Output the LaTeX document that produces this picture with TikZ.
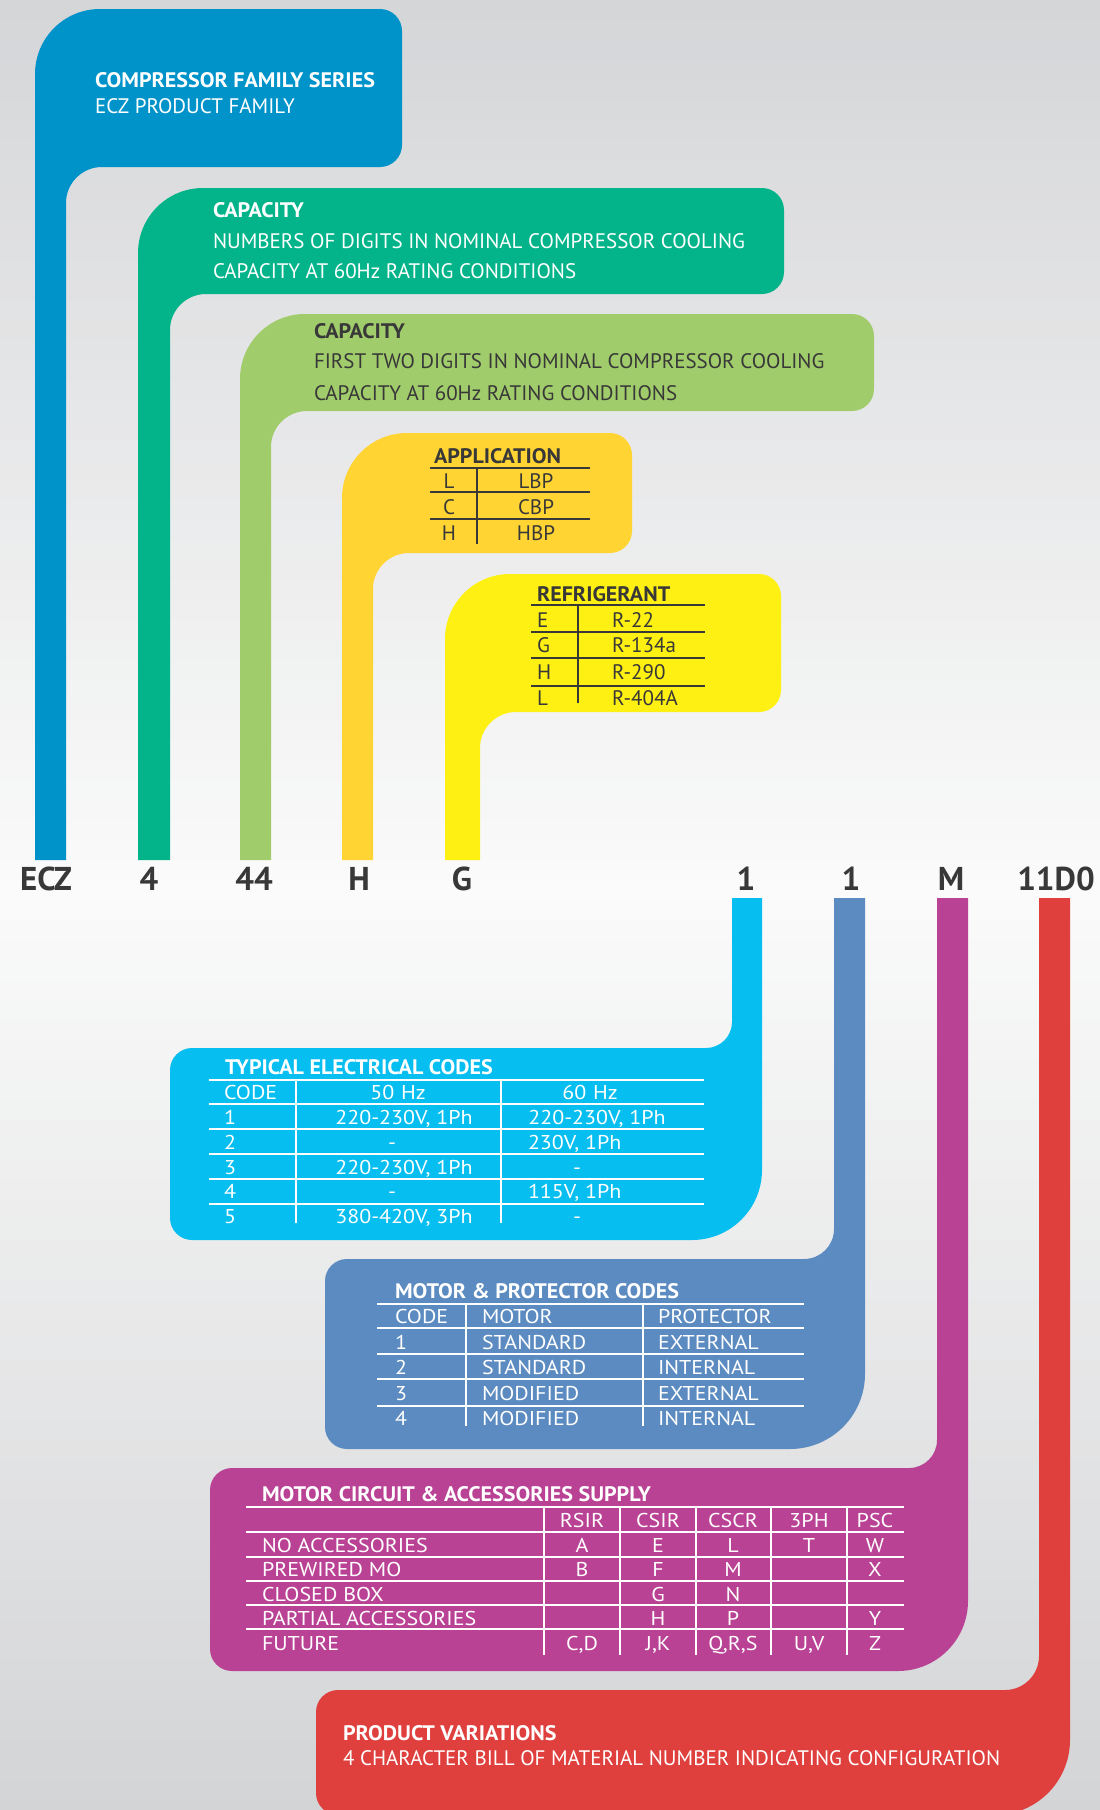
\documentclass[tikz,border=0pt]{standalone}
\usepackage{fontspec}
\setmainfont{PT Sans}
\newfontfamily\cf{PT Sans}
\newfontfamily\cfb[FakeStretch=1.05]{PT Sans}
\newfontfamily\cft[FakeStretch=1.1]{PT Sans}
\definecolor{cBlue}{HTML}{0093C9}
\definecolor{cGreen}{HTML}{03B48A}
\definecolor{cLGreen}{HTML}{A1CC6B}
\definecolor{cOrange}{HTML}{FFD433}
\definecolor{cYellow}{HTML}{FEF012}
\definecolor{cCyan}{HTML}{06BEEF}
\definecolor{cSteel}{HTML}{5B8BC0}
\definecolor{cMag}{HTML}{B94295}
\definecolor{cRed}{HTML}{DF403D}
\definecolor{cDark}{HTML}{383838}
\definecolor{bgTop}{HTML}{D5D6D8}
\definecolor{bgMid}{HTML}{FBFBFB}
\definecolor{bgBot}{HTML}{D3D4D6}
\newcommand\UpFlag[6]{%
 \fill[#6] (#1,860) -- (#1,#3+65) arc[start angle=180,end angle=90,radius=65pt]
 -- (#4-22,#3) arc[start angle=90,end angle=0,radius=22pt]
 -- (#4,#5-22) arc[start angle=0,end angle=-90,radius=22pt]
 -- (#2+36,#5) arc[start angle=90,end angle=180,radius=36pt]
 -- (#2,860) -- cycle;}
\newcommand\DownFlag[8]{%
 \fill[#8] (#1,898) -- (#2,898) -- (#2,#5-#6) arc[start angle=0,end angle=-90,radius=#6pt]
 -- (#3+22,#5) arc[start angle=-90,end angle=-180,radius=22pt]
 -- (#3,#4+22) arc[start angle=180,end angle=90,radius=22pt]
 -- (#1-#7,#4) arc[start angle=-90,end angle=0,radius=#7pt] -- cycle;}
\newcommand\fA{\fontsize{21}{25}\selectfont}
\newcommand\fT{\fontsize{20}{24}\selectfont}
\newcommand\fL{\fontsize{33}{38}\selectfont}
\begin{document}
\begin{tikzpicture}[x=1pt,y=-1pt,
  every node/.style={inner sep=0pt,outer sep=0pt},
  tx/.style={anchor=base west,font=\cf\fA},
  tb/.style={anchor=base west,font=\cfb\fA\bfseries},
  tt/.style={anchor=base west,font=\cft\fT},
  tc/.style={anchor=base,font=\cft\fT},
  lab/.style={anchor=base,font=\cf\fL\bfseries,text=cDark},
  rule/.style={line width=1.4pt}]
\useasboundingbox (0,0) rectangle (1100,1810);
\clip (0,0) rectangle (1100,1810);
% background gradient
\foreach \k in {0,...,44}{%
  \pgfmathtruncatemacro\pp{100*\k/44}%
  \fill[bgMid!\pp!bgTop] (0,20*\k) rectangle (1100,20*\k+21);}
\foreach \k in {0,...,47}{%
  \pgfmathtruncatemacro\pp{100-100*\k/46}%
  \fill[bgMid!\pp!bgBot] (0,880+20*\k) rectangle (1100,880+20*\k+21);}

% upper flags
\UpFlag{35}{66}{9}{402}{167}{cBlue}
\UpFlag{138}{170}{188}{784}{294}{cGreen}
\UpFlag{240}{271}{314}{874}{411}{cLGreen}
\UpFlag{342}{373}{433}{632}{553}{cOrange}
\UpFlag{445}{480}{574}{781}{712}{cYellow}

% lower flags
\DownFlag{732}{762}{170}{1048}{1240}{70}{26}{cCyan}
\DownFlag{834}{865}{325}{1259}{1449}{75}{30}{cSteel}
\DownFlag{937}{968}{210}{1468}{1671}{70}{28}{cMag}
\DownFlag{1039}{1070}{316}{1690}{1815}{75}{34}{cRed}

% code labels
\node[lab] (lECZ) at (46,890) {ECZ};
\node[lab] (l4) at (149,890) {4};
\node[lab] (l44) at (254,890) {44};
\node[lab] (lH) at (359,890) {H};
\node[lab] (lG) at (462,890) {G};
\node[lab] (l1a) at (746,890) {1};
\node[lab] (l1b) at (851,890) {1};
\node[lab] (lM) at (951,890) {M};
\node[lab] (l11) at (1056,890) {11D0};

% blue
\begin{scope}[text=white]
\node[tb] (b1) at (95,87) {COMPRESSOR FAMILY SERIES};
\node[tx] (b2) at (95,113) {ECZ PRODUCT FAMILY};
% green
\node[tb] (g1) at (213,217) {CAPACITY};
\node[tx] (g2) at (213,248) {NUMBERS OF DIGITS IN NOMINAL COMPRESSOR COOLING};
\node[tx] (g3) at (213,278) {CAPACITY AT 60Hz RATING CONDITIONS};
\end{scope}
% light green
\begin{scope}[text=cDark]
\node[tb] (lg1) at (314,338) {CAPACITY};
\node[tx] (lg2) at (314,368) {FIRST TWO DIGITS IN NOMINAL COMPRESSOR COOLING};
\node[tx] (lg3) at (314,400) {CAPACITY AT 60Hz RATING CONDITIONS};
% application
\node[tb] (ap) at (434,463) {APPLICATION};
\draw[rule,cDark] (430,468) -- (590,468) (430,492) -- (590,492) (430,519) -- (590,519) (477,468) -- (477,544);
\node[tc,font=\cf\fA] (apL) at (449,488) {L};
\node[tc,font=\cf\fA] (apLv) at (536,488) {LBP};
\node[tc,font=\cf\fA] (apC) at (449,514) {C};
\node[tc,font=\cf\fA] (apCv) at (536,514) {CBP};
\node[tc,font=\cf\fA] (apH) at (449,540) {H};
\node[tc,font=\cf\fA] (apHv) at (536,540) {HBP};
% refrigerant
\node[tb] (rf) at (537,601) {REFRIGERANT};
\draw[rule,cDark] (531,605) -- (705,605) (531,632) -- (705,632) (531,658) -- (705,658) (531,686) -- (705,686) (578,605) -- (578,703);
\node[tx] (rE) at (537,627) {E};
\node[tx] (rEv) at (612,627) {R-22};
\node[tx] (rG) at (537,652) {G};
\node[tx] (rGv) at (612,652) {R-134a};
\node[tx] (rH) at (537,679) {H};
\node[tx] (rHv) at (612,679) {R-290};
\node[tx] (rL) at (537,705) {L};
\node[tx] (rLv) at (612,705) {R-404A};
\end{scope}

\begin{scope}[text=white]
% electrical codes
\node[tb] (ec) at (225,1074) {TYPICAL ELECTRICAL CODES};
\draw[rule,white] (209,1080) -- (704,1080) (209,1104) -- (704,1104) (209,1129) -- (704,1129)
  (209,1154) -- (704,1154) (209,1179) -- (704,1179) (209,1204) -- (704,1204)
  (296,1080) -- (296,1223) (501,1080) -- (501,1223);
\node[tt] (ech) at (224,1099) {CODE};
\node[tc] (ech5) at (398,1099) {50\,\,Hz};
\node[tc] (ech6) at (590,1099) {60\,\,Hz};
\node[tt] (ec1) at (224,1124) {1};
\node[tc] (ec1a) at (404,1124) {220-230V, 1Ph};
\node[tc] (ec1b) at (597,1124) {220-230V, 1Ph};
\node[tt] (ec2) at (224,1149) {2};
\node[tc] (ec2a) at (392,1149) {-};
\node[tt] (ec2b) at (528,1149) {230V, 1Ph};
\node[tt] (ec3) at (224,1174) {3};
\node[tc] (ec3a) at (404,1174) {220-230V, 1Ph};
\node[tc] (ec3b) at (577,1174) {-};
\node[tt] (ec4) at (224,1198) {4};
\node[tc] (ec4a) at (392,1198) {-};
\node[tt] (ec4b) at (528,1198) {115V, 1Ph};
\node[tt] (ec5) at (224,1223) {5};
\node[tc] (ec5a) at (404,1223) {380-420V, 3Ph};
\node[tc] (ec5b) at (577,1223) {-};
% motor & protector
\node[tb] (mp) at (395,1298) {MOTOR \& PROTECTOR CODES};
\draw[rule,white] (377,1304) -- (804,1304) (377,1328) -- (804,1328) (377,1354) -- (804,1354)
  (377,1379) -- (804,1379) (377,1406) -- (804,1406) (466,1304) -- (466,1426) (643,1304) -- (643,1426);
\node[tt] (mph1) at (395,1323) {CODE};
\node[tt] (mph2) at (482,1323) {MOTOR};
\node[tt] (mph3) at (658,1323) {PROTECTOR};
\node[tt] (mp1) at (395,1349) {1};
\node[tt] (mp1a) at (482,1349) {STANDARD};
\node[tt] (mp1b) at (658,1349) {EXTERNAL};
\node[tt] (mp2) at (395,1374) {2};
\node[tt] (mp2a) at (482,1374) {STANDARD};
\node[tt] (mp2b) at (658,1374) {INTERNAL};
\node[tt] (mp3) at (395,1400) {3};
\node[tt] (mp3a) at (482,1400) {MODIFIED};
\node[tt] (mp3b) at (658,1400) {EXTERNAL};
\node[tt] (mp4) at (395,1425) {4};
\node[tt] (mp4a) at (482,1425) {MODIFIED};
\node[tt] (mp4b) at (658,1425) {INTERNAL};
% motor circuit
\node[tb] (mc) at (262,1501) {MOTOR CIRCUIT \& ACCESSORIES SUPPLY};
\draw[rule,white] (246,1507) -- (904,1507) (246,1532) -- (904,1532) (246,1557) -- (904,1557)
  (246,1581) -- (904,1581) (246,1605) -- (904,1605) (246,1629) -- (904,1629)
  (544,1507) -- (544,1655) (620,1507) -- (620,1655) (696,1507) -- (696,1655)
  (771,1507) -- (771,1655) (847,1507) -- (847,1655);
\node[tc] (mch1) at (582,1527) {RSIR};
\node[tc] (mch2) at (658,1527) {CSIR};
\node[tc] (mch3) at (733,1527) {CSCR};
\node[tc] (mch4) at (809,1527) {3PH};
\node[tc] (mch5) at (875,1527) {PSC};
\node[tt] (mr1) at (262,1552) {NO ACCESSORIES};
\node[tc] (mr1a) at (582,1552) {A};
\node[tc] (mr1b) at (658,1552) {E};
\node[tc] (mr1c) at (733,1552) {L};
\node[tc] (mr1d) at (809,1552) {T};
\node[tc] (mr1e) at (875,1552) {W};
\node[tt] (mr2) at (262,1576) {PREWIRED MO};
\node[tc] (mr2a) at (582,1576) {B};
\node[tc] (mr2b) at (658,1576) {F};
\node[tc] (mr2c) at (733,1576) {M};
\node[tc] (mr2e) at (875,1576) {X};
\node[tt] (mr3) at (262,1601) {CLOSED BOX};
\node[tc] (mr3b) at (658,1601) {G};
\node[tc] (mr3c) at (733,1601) {N};
\node[tt] (mr4) at (262,1625) {PARTIAL ACCESSORIES};
\node[tc] (mr4b) at (658,1625) {H};
\node[tc] (mr4c) at (733,1625) {P};
\node[tc] (mr4e) at (875,1625) {Y};
\node[tt] (mr5) at (262,1650) {FUTURE};
\node[tc] (mr5a) at (582,1650) {C,D};
\node[tc] (mr5b) at (658,1650) {J,K};
\node[tc] (mr5c) at (733,1650) {Q,R,S};
\node[tc] (mr5d) at (809,1650) {U,V};
\node[tc] (mr5e) at (875,1650) {Z};
% product variations
\node[tb] (pv1) at (343,1740) {PRODUCT VARIATIONS};
\node[tx] (pv2) at (343,1765) {4 CHARACTER BILL OF MATERIAL NUMBER INDICATING CONFIGURATION};
\end{scope}
\end{tikzpicture}
\end{document}
